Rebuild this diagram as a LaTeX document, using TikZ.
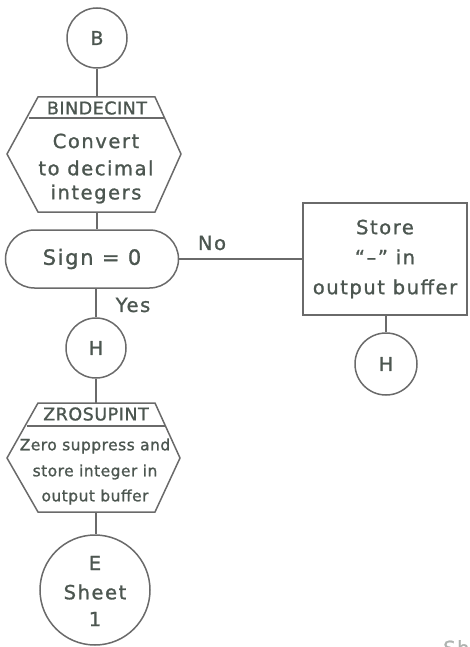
\documentclass[tikz,border=0pt]{standalone}
\usepackage{fontspec}
\newfontfamily\hand[LetterSpace=8,FakeBold=1.2]{DejaVu Sans}
\newfontfamily\handcaps[LetterSpace=3,FakeBold=1.2]{DejaVu Sans}
\definecolor{ink}{HTML}{4C5650}
\definecolor{rule}{HTML}{6A6A6A}
\begin{document}
\begin{tikzpicture}[x=1pt,y=-1pt]
\tikzset{
  line/.style={draw=rule, line width=1.5pt},
  txt/.style={text=ink, font=\hand\fontsize{19.5}{26}\selectfont, align=center, inner sep=0pt},
  small/.style={text=ink, font=\handcaps\fontsize{15.5}{26}\selectfont, align=center, inner sep=0pt},
  head/.style={text=ink, font=\handcaps\fontsize{17.5}{20}\selectfont, inner sep=0pt},
  conn/.style={line, circle, text=ink, font=\hand\fontsize{19}{26}\selectfont, align=center, inner sep=0pt},
  procbox/.style={line, rectangle, text=ink, font=\hand\fontsize{19.5}{30}\selectfont, align=center, inner sep=0pt},
  decbox/.style={line, rectangle, rounded corners=29pt, text=ink, font=\hand\fontsize{21}{26}\selectfont, inner sep=0pt},
}
\useasboundingbox (0,0) rectangle (470,647);

% entry connector
\node[conn, minimum size=60pt] (B) at (97,38) {B};

% predefined process: BINDECINT
\draw[line] (38,97) -- (155,97) -- (181,154) -- (155,212) -- (38,212) -- (7,154) -- cycle;
\draw[line] (28.5,118) -- (164.6,118);
\coordinate (h1top) at (97,97);
\coordinate (h1bot) at (97,212);
\node[head] (h1name) at (97,108) {BINDECINT};
\node[txt] (h1a) at (96,141) {Convert};
\node[txt] (h1b) at (96,168) {to decimal};
\node[txt] (h1c) at (96,194) {integers};

% sign test
\node[decbox, minimum width=173pt, minimum height=58pt] (sign) at (92,259) {Sign = 0};

% negative branch
\node[procbox, minimum width=164pt, minimum height=112pt] (store) at (385,259)
  {Store\\“–” in\\output buffer};
\node[conn, minimum size=62pt] (H2) at (386,364) {H};

% positive branch
\node[conn, minimum size=60pt] (H1) at (96,348) {H};

% predefined process: ZROSUPINT
\draw[line] (38,403) -- (155,403) -- (180,458) -- (155,512) -- (38,512) -- (7,458) -- cycle;
\draw[line] (27,426) -- (165.5,426);
\coordinate (h2top) at (96,403);
\coordinate (h2bot) at (96,512);
\node[head] (h2name) at (96,414) {ZROSUPINT};
\node[small] (h2a) at (95,446) {Zero suppress and};
\node[small] (h2b) at (95,472) {store integer in};
\node[small] (h2c) at (95,497) {output buffer};

% off-page connector
\node[conn, minimum size=110pt] (E) at (95,590) {};
\node[txt] (Ea) at (95,563) {E};
\node[txt] (Eb) at (95,592) {Sheet};
\node[txt] (Ec) at (95,619) {1};

% flow lines, kept vertical along the left column
\draw[line] (B) -- (h1top);
\draw[line] (h1bot) -- (h1bot |- sign.north);
\draw[line] (sign.east) -- (store.west);
\draw[line] (H1 |- sign.south) -- (H1);
\draw[line] (store.south -| H2) -- (H2);
\draw[line] (H1) -- (h2top);
\draw[line] (h2bot) -- (h2bot |- E.north);

% branch labels
\node[txt] (no) at (212,243) {No};
\node[txt] (yes) at (133,305) {Yes};

% sheet note at the page edge
\begin{scope}
  \clip (0,0) rectangle (470,647);
  \node[txt, text=ink!45, anchor=north west] (sheetnote) at (443,640) {Sheet};
\end{scope}
\end{tikzpicture}
\end{document}
